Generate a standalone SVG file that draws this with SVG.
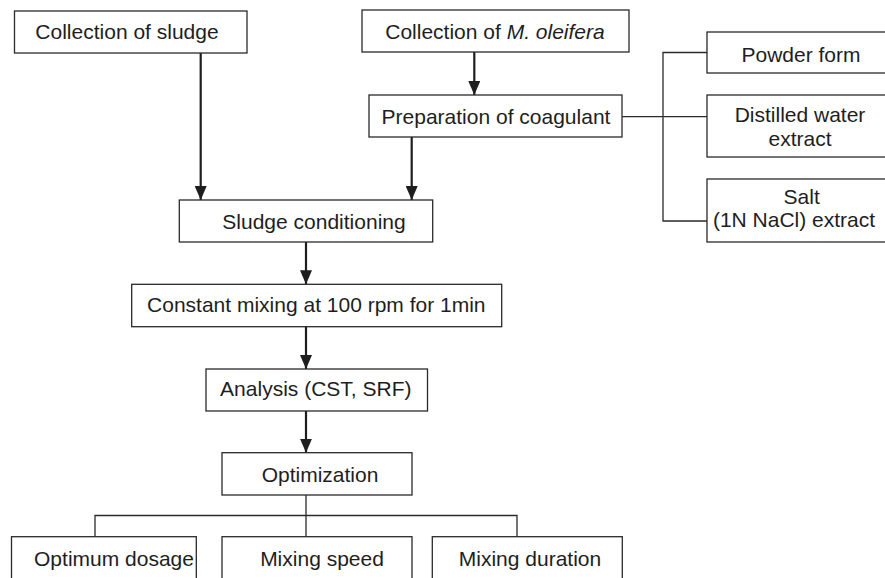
<svg xmlns="http://www.w3.org/2000/svg" width="885" height="578" viewBox="0 0 885 578">
<style>
.box{fill:#fff;stroke:#2a2a2a;stroke-width:1.3}
.t{font-family:"Liberation Sans",Arial,sans-serif;font-size:21px;fill:#1e1e1e;text-anchor:middle}
.arr{stroke:#1e1e1e;stroke-width:2.2;fill:none;marker-end:url(#ah)}
.ln{stroke:#2a2a2a;stroke-width:1.3;fill:none}
</style>
<defs>
<marker id="ah" markerUnits="userSpaceOnUse" viewBox="0 0 14 12" refX="14" refY="6" markerWidth="14" markerHeight="12" orient="auto">
<path d="M0,0 L14,6 L0,12 z" fill="#1e1e1e"/>
</marker>
</defs>
<rect width="885" height="578" fill="#fff"/>
<g id="connectors">
<line class="arr" x1="200.7" y1="53" x2="200.7" y2="200"/>
<line class="arr" x1="474.3" y1="52" x2="474.3" y2="95"/>
<line class="arr" x1="411.7" y1="137" x2="411.7" y2="200"/>
<line class="arr" x1="306" y1="242" x2="306" y2="284.3"/>
<line class="arr" x1="306" y1="326.7" x2="306" y2="369"/>
<line class="arr" x1="306" y1="411" x2="306" y2="452.7"/>
<path class="ln" d="M622,116.7 H707 M707,52.5 H663 V221 H707"/>
<path class="ln" d="M306,495 V536.7 M95,536.7 V515.5 H517 V536.7"/>
</g>
<g id="n-sludge"><rect class="box" x="14.5" y="11" width="232.5" height="42"/><text class="t" x="127" y="39.3">Collection of sludge</text></g>
<g id="n-moringa"><rect class="box" x="362" y="10" width="267" height="42"/><text class="t" x="495" y="38.5">Collection of <tspan font-style="italic">M. oleifera</tspan></text></g>
<g id="n-prep"><rect class="box" x="369" y="95" width="253" height="42"/><text class="t" x="496" y="123.5">Preparation of coagulant</text></g>
<g id="n-powder"><rect class="box" x="707" y="32" width="190" height="41"/><text class="t" x="801" y="61.7">Powder form</text></g>
<g id="n-distilled"><rect class="box" x="707" y="95" width="190" height="62"/><text class="t" x="800" y="122.3">Distilled water</text><text class="t" x="800" y="145.7">extract</text></g>
<g id="n-salt"><rect class="box" x="707" y="179" width="190" height="63"/><text class="t" x="801.7" y="204">Salt</text><text class="t" x="794" y="227.3">(1N NaCl) extract</text></g>
<g id="n-conditioning"><rect class="box" x="179.3" y="200" width="253.4" height="42"/><text class="t" x="314" y="229.3">Sludge conditioning</text></g>
<g id="n-mixing"><rect class="box" x="131.7" y="284.3" width="370" height="42.4"/><text class="t" x="316.3" y="312.3">Constant mixing at 100 rpm for 1min</text></g>
<g id="n-analysis"><rect class="box" x="206" y="369" width="221.5" height="42"/><text class="t" x="315.8" y="396">Analysis (CST, SRF)</text></g>
<g id="n-optimization"><rect class="box" x="222" y="452.7" width="190" height="42.3"/><text class="t" x="320" y="481.7">Optimization</text></g>
<g id="n-dosage"><rect class="box" x="11.5" y="536.7" width="184.8" height="60"/><text class="t" x="114" y="566">Optimum dosage</text></g>
<g id="n-speed"><rect class="box" x="222" y="536.7" width="190" height="60"/><text class="t" x="322" y="566">Mixing speed</text></g>
<g id="n-duration"><rect class="box" x="432.3" y="536.7" width="190" height="60"/><text class="t" x="530" y="566">Mixing duration</text></g>
</svg>
